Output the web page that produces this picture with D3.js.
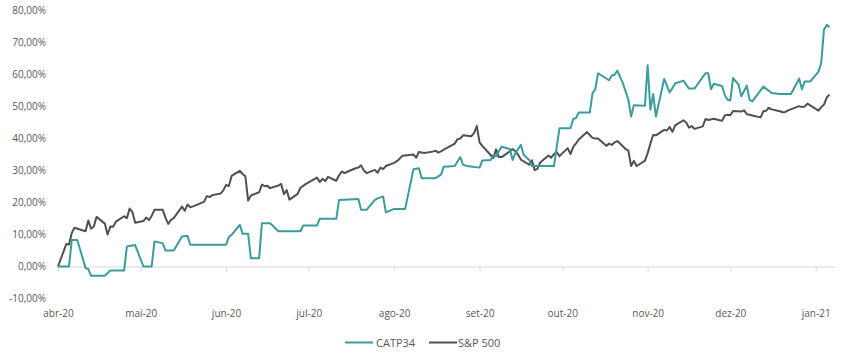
<!DOCTYPE html>
<html>
<head>
<meta charset="utf-8">
<script src="https://cdn.jsdelivr.net/npm/d3@7"></script>
<style>
  html, body { margin: 0; padding: 0; background: #ffffff; }
  svg { display: block; font-family: "Open Sans", "Noto Sans", sans-serif; }
</style>
</head>
<body>
<svg id="chart" width="845" height="354"></svg>
<script>
// ---------- DATA ----------
const seriesNames = ["CATP34", "S&P 500"];

const tickDates  = ["2020-04-03","2020-05-03","2020-06-03","2020-07-03","2020-08-03","2020-09-03","2020-10-03","2020-11-03","2020-12-03","2021-01-03"];
const tickLabels = ["abr-20","mai-20","jun-20","jul-20","ago-20","set-20","out-20","nov-20","dez-20","jan-21"];
const yTicks = [-10, 0, 10, 20, 30, 40, 50, 60, 70, 80];

// CATP34 cumulative return (%)
const catp34 = [
["2020-04-03",0],["2020-04-07",0],["2020-04-08",8.3],["2020-04-10",8.3],["2020-04-13",-0.5],["2020-04-14",-0.8],
["2020-04-15",-2.9],["2020-04-20",-2.9],["2020-04-22",-1.25],["2020-04-27",-1.25],["2020-04-28",6.25],["2020-05-01",6.7],
["2020-05-04",0],["2020-05-07",0],["2020-05-08",7.8],["2020-05-11",7.3],["2020-05-12",5.0],["2020-05-15",5.0],
["2020-05-18",9.4],["2020-05-20",9.6],["2020-05-21",6.8],["2020-06-03",6.8],["2020-06-04",9.2],["2020-06-05",9.9],
["2020-06-08",13.0],["2020-06-09",10.2],["2020-06-11",10.2],["2020-06-12",2.6],["2020-06-15",2.6],["2020-06-16",13.5],
["2020-06-19",13.5],["2020-06-22",11.0],["2020-06-30",11.0],["2020-07-01",12.8],["2020-07-06",12.8],["2020-07-07",14.9],
["2020-07-13",14.9],["2020-07-14",20.8],["2020-07-21",21.1],["2020-07-22",17.7],["2020-07-24",17.7],["2020-07-27",20.8],
["2020-07-28",21.3],["2020-07-30",21.9],["2020-07-31",16.9],["2020-08-03",18.0],["2020-08-07",18.0],["2020-08-10",30.4],
["2020-08-12",30.7],["2020-08-13",27.6],["2020-08-18",27.6],["2020-08-20",28.7],["2020-08-21",31.2],["2020-08-25",31.4],
["2020-08-27",34.2],["2020-08-28",31.8],["2020-08-30",31.3],["2020-09-03",30.9],["2020-09-04",33.1],["2020-09-07",33.3],
["2020-09-08",34.9],["2020-09-09",34.4],["2020-09-10",36.0],["2020-09-11",37.4],["2020-09-14",36.7],["2020-09-15",33.3],
["2020-09-16",35.4],["2020-09-18",38.0],["2020-09-19",34.9],["2020-09-21",33.3],["2020-09-22",31.4],["2020-09-30",31.4],
["2020-10-02",43.2],["2020-10-06",43.2],["2020-10-07",46.1],["2020-10-08",46.4],["2020-10-09",48.1],["2020-10-13",48.1],
["2020-10-14",54.2],["2020-10-15",55.4],["2020-10-16",60.4],["2020-10-20",58.2],["2020-10-21",59.7],["2020-10-22",59.9],
["2020-10-23",61.2],["2020-10-25",57.3],["2020-10-27",52.1],["2020-10-28",46.9],["2020-10-29",50.4],["2020-11-02",50.2],
["2020-11-03",62.9],["2020-11-04",49.0],["2020-11-05",53.9],["2020-11-06",46.9],["2020-11-09",58.6],["2020-11-11",54.4],
["2020-11-13",57.2],["2020-11-16",58.1],["2020-11-18",55.6],["2020-11-20",55.6],["2020-11-24",60.4],["2020-11-25",60.4],
["2020-11-26",55.4],["2020-11-27",57.1],["2020-11-30",56.4],["2020-12-01",53.6],["2020-12-02",52.1],["2020-12-03",51.9],
["2020-12-04",58.9],["2020-12-06",56.8],["2020-12-07",53.2],["2020-12-09",56.5],["2020-12-10",52.1],["2020-12-11",51.6],
["2020-12-15",56.2],["2020-12-18",54.2],["2020-12-21",53.9],["2020-12-25",53.9],["2020-12-28",58.7],["2020-12-29",55.4],
["2020-12-30",57.8],["2021-01-01",57.8],["2021-01-04",60.9],["2021-01-05",63.6],["2021-01-06",74.0],["2021-01-07",75.5],
["2021-01-08",74.8]
];

// S&P 500 cumulative return (%)
const sp500 = [
["2020-04-03",0],["2020-04-06",7.0],["2020-04-07",6.9],["2020-04-08",10.5],["2020-04-09",12.1],["2020-04-13",11.0],
["2020-04-14",14.4],["2020-04-15",11.8],["2020-04-16",12.5],["2020-04-17",15.5],["2020-04-20",13.4],["2020-04-21",10.0],
["2020-04-22",12.5],["2020-04-23",12.4],["2020-04-24",14.0],["2020-04-27",15.7],["2020-04-28",15.1],["2020-04-29",18.1],
["2020-04-30",17.0],["2020-05-01",13.7],["2020-05-04",14.2],["2020-05-05",15.3],["2020-05-06",14.5],["2020-05-07",15.8],
["2020-05-08",17.7],["2020-05-11",17.7],["2020-05-12",15.3],["2020-05-13",13.3],["2020-05-14",14.6],["2020-05-15",15.1],
["2020-05-18",18.7],["2020-05-19",17.4],["2020-05-20",19.4],["2020-05-21",18.5],["2020-05-22",18.8],["2020-05-26",20.2],
["2020-05-27",22.0],["2020-05-28",21.7],["2020-05-29",22.3],["2020-06-01",22.8],["2020-06-02",23.8],["2020-06-03",25.5],
["2020-06-04",25.1],["2020-06-05",28.3],["2020-06-08",29.9],["2020-06-09",28.9],["2020-06-10",28.2],["2020-06-11",20.6],
["2020-06-12",22.2],["2020-06-15",23.2],["2020-06-16",25.6],["2020-06-17",25.1],["2020-06-18",25.2],["2020-06-19",24.5],
["2020-06-22",25.3],["2020-06-23",25.8],["2020-06-24",22.6],["2020-06-25",23.9],["2020-06-26",20.9],["2020-06-29",22.7],
["2020-06-30",24.6],["2020-07-01",25.2],["2020-07-02",25.8],["2020-07-06",27.8],["2020-07-07",26.4],["2020-07-08",27.4],
["2020-07-09",26.7],["2020-07-10",28.0],["2020-07-13",26.8],["2020-07-14",28.5],["2020-07-15",29.7],["2020-07-16",29.2],
["2020-07-17",29.6],["2020-07-20",30.7],["2020-07-21",30.9],["2020-07-22",31.6],["2020-07-23",30.0],["2020-07-24",29.2],
["2020-07-27",30.2],["2020-07-28",29.3],["2020-07-29",30.9],["2020-07-30",30.4],["2020-07-31",31.4],["2020-08-03",32.4],
["2020-08-04",32.9],["2020-08-05",33.7],["2020-08-06",34.6],["2020-08-07",34.7],["2020-08-10",35.0],["2020-08-11",34.0],
["2020-08-12",35.8],["2020-08-13",35.6],["2020-08-14",35.5],["2020-08-17",35.9],["2020-08-18",36.2],["2020-08-19",35.6],
["2020-08-20",36.0],["2020-08-21",36.5],["2020-08-24",37.9],["2020-08-25",38.4],["2020-08-26",39.8],["2020-08-27",40.0],
["2020-08-28",41.0],["2020-08-31",40.7],["2020-09-01",41.7],["2020-09-02",43.9],["2020-09-03",38.8],["2020-09-04",37.7],
["2020-09-08",33.9],["2020-09-09",36.6],["2020-09-10",34.2],["2020-09-11",34.2],["2020-09-14",36.0],["2020-09-15",36.7],
["2020-09-16",36.0],["2020-09-17",34.9],["2020-09-18",33.4],["2020-09-21",31.8],["2020-09-22",33.2],["2020-09-23",30.1],
["2020-09-24",30.5],["2020-09-25",32.5],["2020-09-28",34.7],["2020-09-29",34.0],["2020-09-30",35.1],["2020-10-01",35.8],
["2020-10-02",34.5],["2020-10-05",37.0],["2020-10-06",35.1],["2020-10-07",37.4],["2020-10-08",38.5],["2020-10-09",39.7],
["2020-10-12",42.0],["2020-10-13",41.1],["2020-10-14",40.2],["2020-10-15",40.0],["2020-10-16",40.0],["2020-10-19",37.7],
["2020-10-20",38.4],["2020-10-21",38.0],["2020-10-22",38.8],["2020-10-23",39.2],["2020-10-26",36.7],["2020-10-27",36.2],
["2020-10-28",31.4],["2020-10-29",33.0],["2020-10-30",31.4],["2020-11-02",33.0],["2020-11-03",35.4],["2020-11-04",38.4],
["2020-11-05",41.1],["2020-11-06",41.0],["2020-11-09",42.7],["2020-11-10",42.5],["2020-11-11",43.6],["2020-11-12",42.1],
["2020-11-13",44.1],["2020-11-16",45.7],["2020-11-17",45.0],["2020-11-18",43.4],["2020-11-19",43.9],["2020-11-20",43.0],
["2020-11-23",43.8],["2020-11-24",46.1],["2020-11-25",45.8],["2020-11-27",46.2],["2020-11-30",45.5],["2020-12-01",47.2],
["2020-12-02",47.4],["2020-12-03",47.3],["2020-12-04",48.6],["2020-12-07",48.4],["2020-12-08",48.8],["2020-12-09",47.6],
["2020-12-10",47.4],["2020-12-11",47.2],["2020-12-14",46.6],["2020-12-15",48.5],["2020-12-16",48.7],["2020-12-17",49.6],
["2020-12-18",49.1],["2020-12-21",48.5],["2020-12-22",48.2],["2020-12-23",48.3],["2020-12-24",48.8],["2020-12-28",50.1],
["2020-12-29",49.8],["2020-12-30",50.0],["2020-12-31",50.9],["2021-01-04",48.7],["2021-01-05",49.8],["2021-01-06",50.6],
["2021-01-07",52.8],["2021-01-08",53.7]
];

// ---------- CHART ----------
const parse = d3.utcParse("%Y-%m-%d");
const svg = d3.select("#chart");

const x = d3.scaleUtc()
  .domain([parse("2020-04-03"), parse("2021-01-10")])
  .range([58, 835]);
const y = d3.scaleLinear().domain([-10, 80]).range([298.5, 10.5]);

const loc = d3.formatLocale({decimal: ",", thousands: ".", grouping: [3], currency: ["R$", ""], minus: "-"});
const fmt = loc.format(".2f");

// Y axis labels (no line)
const yAxis = svg.append("g")
  .attr("transform", "translate(46,0)")
  .call(d3.axisLeft(y).tickValues(yTicks).tickSize(0).tickPadding(0).tickFormat(d => fmt(d) + "%"));
yAxis.select(".domain").remove();
yAxis.selectAll("text").attr("fill", "#595959").style("font-size", "10px").style("font-family", "'Open Sans', sans-serif");

// X axis at zero
const xAxis = svg.append("g")
  .attr("transform", `translate(0,${y(0)})`)
  .call(d3.axisBottom(x)
    .tickValues(tickDates.map(parse))
    .tickSize(5).tickSizeOuter(0).tickPadding(38)
    .tickFormat((d, i) => tickLabels[i]));
xAxis.select(".domain").attr("stroke", "#d9d9d9").attr("stroke-width", 1);
xAxis.selectAll(".tick line").attr("stroke", "#d9d9d9");
xAxis.selectAll("text").attr("fill", "#595959").style("font-size", "10px").style("font-family", "'Open Sans', sans-serif");

const colors = {"CATP34": "#3a9c9c", "S&P 500": "#505050"};
const line = d3.line().x(d => x(parse(d[0]))).y(d => y(d[1]));

svg.append("path").datum(sp500)
  .attr("fill", "none").attr("stroke", colors["S&P 500"]).attr("stroke-width", 2)
  .attr("stroke-linejoin", "round").attr("d", line);
svg.append("path").datum(catp34)
  .attr("fill", "none").attr("stroke", colors["CATP34"]).attr("stroke-width", 2)
  .attr("stroke-linejoin", "round").attr("d", line);

// Legend
const legendPos = [{x: 345, tx: 376}, {x: 429, tx: 458}];
const lg = svg.append("g");
seriesNames.forEach((name, i) => {
  const p = legendPos[i];
  lg.append("line").attr("x1", p.x).attr("x2", p.x + 28).attr("y1", 342.5).attr("y2", 342.5)
    .attr("stroke", colors[name]).attr("stroke-width", 2);
  lg.append("text").attr("x", p.tx).attr("y", 346.5).text(name)
    .attr("fill", "#595959").style("font-size", "11px");
});
</script>
</body>
</html>
